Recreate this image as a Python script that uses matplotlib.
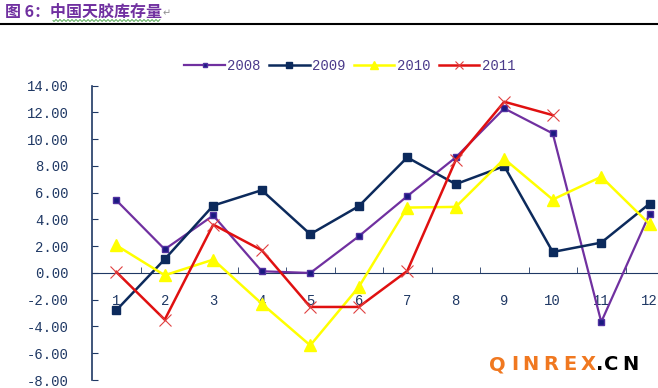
import matplotlib
matplotlib.use("Agg")
import matplotlib.pyplot as plt
import numpy as np

months = [str(m) for m in range(1, 13)]
y2008 = [5.44, 1.77, 4.30, 0.13, 0.00, 2.74, 5.74, 8.64, 12.30, 10.43, -3.66, 4.44]
y2009 = [-2.79, 1.03, 5.04, 6.19, 2.90, 4.99, 8.64, 6.64, 7.99, 1.57, 2.27, 5.19]
y2010 = [2.07, -0.17, 1.00, -2.29, -5.41, -1.05, 4.89, 4.94, 8.53, 5.49, 7.19, 3.64]
y2011 = [0.08, -3.49, 3.62, 1.70, -2.54, -2.54, 0.15, 8.44, 12.80, 11.80]
yticks = np.arange(-8, 15, 2)

W, H = 658, 388
fig = plt.figure(figsize=(W / 100, H / 100), dpi=100)
fig.patch.set_facecolor("white")

ax = fig.add_axes([92 / W, 1 - 380 / H, 582 / W, (380 - 85.7) / H])
x = np.arange(1, 13)

ax.plot(x, y2008, color="#7030a0", lw=1.6, marker="s", ms=4.5,
        mfc="#1a1a80", mec="#5030a0", label="2008", zorder=3)
ax.plot(x, y2009, color="#0c2a5c", lw=1.8, marker="s", ms=6,
        mfc="#0c2a5c", mec="#0c2a5c", label="2009", zorder=3)
ax.plot(x, y2010, color="#ffff00", lw=1.8, marker="^", ms=8,
        mfc="#ffff00", mec="#ffff00", label="2010", zorder=3)
ax.plot(x[:len(y2011)], y2011, color="#e01010", lw=1.8, marker="x", ms=9,
        mew=0.8, mec="#e04040", label="2011", zorder=3)

ax.set_xlim(0.5, 12.5)
ax.set_ylim(-8, 14)
for s in ["top", "right"]:
    ax.spines[s].set_visible(False)
ax.spines["bottom"].set_position(("data", 0))
ax.spines["bottom"].set_color("#1f3864")
ax.spines["left"].set_color("#1f3864")
ax.spines["left"].set_linewidth(1.2)

mono = "Liberation Mono"
ax.set_yticks(yticks)
ax.set_yticklabels(["%.2f" % v for v in yticks], fontfamily=mono,
                   fontsize=10, color="#1f3864")
ax.tick_params(axis="y", direction="in", length=4, pad=17, color="#1f3864")

ax.set_xticks(x)
ax.set_xticklabels(months, fontfamily=mono, fontsize=10, color="#1f3864")
ax.set_xticks(np.arange(1.5, 12.5, 1), minor=True)
ax.tick_params(axis="x", which="major", length=0, pad=15)
ax.tick_params(axis="x", which="minor", direction="in", length=4,
               color="#1f3864")
for lab in ax.get_xticklabels():
    lab.set_zorder(5)

leg = ax.legend(loc="center", bbox_to_anchor=(350 / W, 1 - 66 / H),
                bbox_transform=fig.transFigure, ncol=4, frameon=False,
                handlelength=2.9, handletextpad=0.2, columnspacing=0.6,
                markerscale=0.7, prop={"family": mono, "size": 10})
for t in leg.get_texts():
    t.set_color("#4a3a8a")

# heading
fig.text(5 / W, 1 - 12 / H, "图 6：中国天胶库存量", fontsize=11.5,
         fontweight="bold", color="#7030a0", va="center",
         family=["Noto Sans CJK SC", "DejaVu Sans"])
fig.text(163 / W, 1 - 13 / H, "↵", fontsize=7, color="#909090", va="center")
fig.add_artist(plt.Line2D([0, 1], [1 - 24 / H, 1 - 24 / H],
                          transform=fig.transFigure, color="black", lw=1.5))
# spell-check squiggle under the heading
sx = np.linspace(53, 160, 200)
sy = 20.5 + 0.9 * np.sin((sx - 53) * 2 * np.pi / 4)
fig.add_artist(plt.Line2D(sx / W, 1 - sy / H, transform=fig.transFigure,
                          color="#3a9a3a", lw=0.6))

# watermark
chars = "QINREX.CN"
cx = [497.5, 515, 530.5, 550.5, 570, 588.5, 599.5, 611.5, 630.5]
for i, (c, px) in enumerate(zip(chars, cx)):
    fig.text(px / W, 1 - 365 / H, c, fontsize=14, fontweight="bold",
             color="#f07820" if i < 6 else "black",
             ha="center", va="center", family="DejaVu Sans")

fig.savefig("out.png", dpi=100)
